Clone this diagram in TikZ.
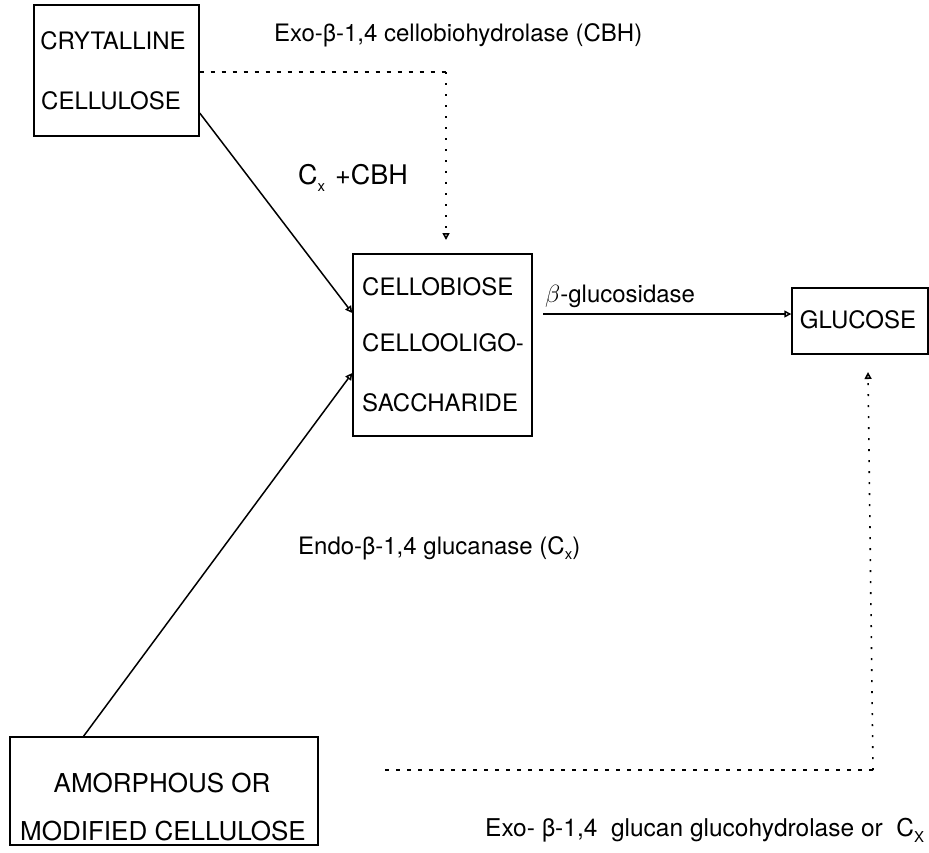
\documentclass[tikz,border=0pt]{standalone}
\usepackage{fontspec}
\setmainfont{TeX Gyre Heros}
\usetikzlibrary{arrows.meta}
\newcommand\lowsub[1]{\raisebox{-0.45ex}{\fontsize{15}{15}\selectfont #1}}
\begin{document}
\begin{tikzpicture}[x=1pt,y=-1pt,
  box/.style={draw, line width=1.4pt, inner sep=0pt},
  lbl/.style={font=\fontsize{24}{28}\selectfont, inner sep=0pt, anchor=center},
  big/.style={font=\fontsize{26}{30}\selectfont},
  solidline/.style={line width=1.5pt},
  tip/.style={-{Triangle[open,length=7pt,width=7pt]}},
  hdash/.style={line width=1.3pt, dash pattern=on 4pt off 7pt},
  vdot/.style={line width=1.6pt, dash pattern=on 2pt off 9pt}]
\useasboundingbox (0,0) rectangle (929,852);
% boxes
\node[box, minimum width=165pt, minimum height=131pt] (cryst) at (116.5,70.5) {};
\node[box, minimum width=179pt, minimum height=182pt] (cello) at (442.5,345) {};
\node[box, minimum width=136pt, minimum height=66pt] (gluc) at (860,321) {};
\node[box, minimum width=308pt, minimum height=108pt] (amor) at (164,791) {};
% box texts
\node[lbl] (t1) at (113,41) {CRYTALLINE};
\node[lbl] (t2) at (111,101) {CELLULOSE};
\node[lbl, anchor=west] (t3) at (362,287) {CELLOBIOSE};
\node[lbl, anchor=west] (t4) at (362,343) {CELLOOLIGO-};
\node[lbl, anchor=west] (t5) at (362,403) {SACCHARIDE};
\node[lbl] (t6) at (858,320) {GLUCOSE};
\node[lbl, big] (t7) at (162,783) {AMORPHOUS OR};
\node[lbl, big] (t8) at (163,831) {MODIFIED CELLULOSE};
% labels
\node[lbl, anchor=west] (l1) at (274,35) {Exo-β-1,4 cellobiohydrolase (CBH)};
\node[lbl, anchor=west, font=\fontsize{27}{30}\selectfont] (l2) at (298,178) {C\lowsub{x}\hspace{10pt}+CBH};
\node[lbl, anchor=west] (l3) at (545,296) {$\beta$-glucosidase};
\node[lbl, anchor=west] (l4) at (298,548) {Endo-β-1,4 glucanase (C\lowsub{x})};
\node[lbl, anchor=west, font=\fontsize{24.5}{28}\selectfont] (l5) at (485,830) {Exo- β-1,4\ \ glucan glucohydrolase or\ \ C\lowsub{X}};
% coordinates
\coordinate (c1) at (446,72);
\coordinate (c2) at (873,770);
% connectors
\draw[solidline, tip] (cryst.south east |- 0,113) -- (cello.west |- 0,313);
\draw[solidline, tip] (83,737) -- (cello.west |- 0,373);
\draw[solidline, tip] (543,314) -- (gluc.west |- 0,314);
\draw[hdash] (cryst.east |- 0,72) -- (c1);
\draw[vdot, tip] (c1) -- (446,240);
\draw[hdash] (385,770) -- (c2);
\draw[vdot, tip] (c2) -- (868,372);
\end{tikzpicture}
\end{document}
